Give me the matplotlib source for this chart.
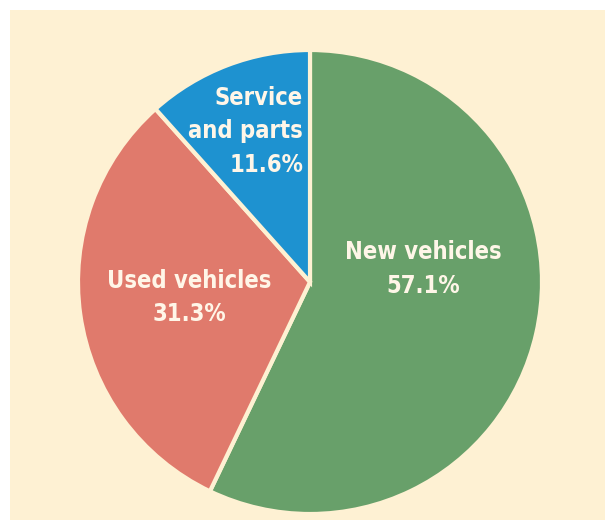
import matplotlib
matplotlib.use("Agg")
import matplotlib.pyplot as plt
from matplotlib.patches import Rectangle

labels = ["New vehicles", "Used vehicles", "Service\nand parts"]
shares = [57.1, 31.3, 11.6]
colors = ["#68a06a", "#e07a6c", "#1e92d0"]

cream = "#fef1d3"

fig = plt.figure(figsize=(6.05, 5.2), dpi=100)
fig.patch.set_facecolor("white")
fig.patches.append(Rectangle((10 / 605, 0), 1, 510 / 520, transform=fig.transFigure,
                             facecolor=cream, edgecolor="none", zorder=-5))

ax = fig.add_axes([78 / 605, 6 / 520, 464 / 605, 464 / 520], zorder=2)
ax.set_facecolor("none")
wedges, _ = ax.pie(shares, colors=colors, startangle=90, counterclock=False, radius=1,
                   wedgeprops=dict(edgecolor=cream, linewidth=3))
ax.set_xlim(-1, 1)
ax.set_ylim(-1, 1)
ax.set_aspect("equal")
ax.axis("off")

font = dict(family="DejaVu Sans", fontstretch="condensed", fontweight="bold",
            fontsize=17, color="#fff6e8", linespacing=1.5)

# label positions (data coords)
pos = [(0.49, 0.055, "center"), (-0.52, -0.067, "center"), (-0.03, 0.649, "right")]
for lab, val, (x, y, ha) in zip(labels, shares, pos):
    ax.text(x, y, f"{lab}\n{val:.1f}%", ha=ha, va="center", multialignment=ha, **font)

fig.savefig("out.png", dpi=100)
